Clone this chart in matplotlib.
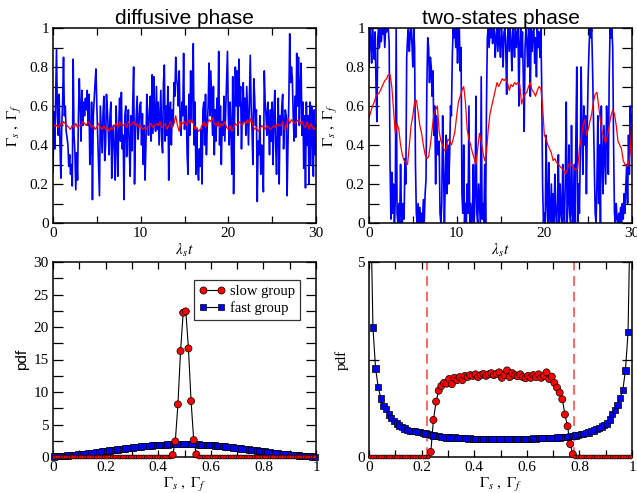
import numpy as np
import matplotlib
matplotlib.use("Agg")
import matplotlib.pyplot as plt
from matplotlib.ticker import MultipleLocator, FuncFormatter

plt.rcParams['font.family'] = ['Liberation Serif', 'DejaVu Serif']
plt.rcParams['mathtext.fontset'] = 'stix'

# ---------------- data ----------------
dt_blue = 0.1
dt_red = 0.2

diff_fast = [
    0.26, 0.57, 0.38, 0.62, 0.89, 0.55, 0.45, 0.66, 0.40, 0.23,
    0.50, 0.62, 0.85, 0.55, 0.60, 0.47, 0.44, 0.40, 0.29, 0.35,
    0.25, 0.30, 0.19, 0.84, 0.45, 0.36, 0.17, 0.36, 0.22, 0.55,
    0.74, 0.60, 0.42, 0.68, 0.50, 0.62, 0.55, 0.64, 0.58, 0.68,
    0.50, 0.66, 0.30, 0.40, 0.62, 0.12, 0.55, 0.64, 0.72, 0.79,
    0.60, 0.45, 0.30, 0.14, 0.60, 0.48, 0.36, 0.55, 0.65, 0.32,
    0.40, 0.66, 0.58, 0.48, 0.35, 0.55, 0.62, 0.23, 0.45, 0.50,
    0.35, 0.22, 0.60, 0.45, 0.24, 0.50, 0.64, 0.42, 0.67, 0.38,
    0.45, 0.12, 0.55, 0.60, 0.34, 0.48, 0.58, 0.38, 0.24, 0.55,
    0.37, 0.62, 0.80, 0.20, 0.45, 0.55, 0.65, 0.43, 0.50, 0.60,
    0.62, 0.40, 0.56, 0.30, 0.50, 0.22, 0.40, 0.66, 0.52, 0.45,
    0.58, 0.65, 0.42, 0.76, 0.46, 0.75, 0.53, 0.47, 0.70, 0.48,
    0.62, 0.40, 0.54, 0.68, 0.42, 0.36, 0.72, 0.81, 0.42, 0.60,
    0.45, 0.70, 0.22, 0.55, 0.62, 0.40, 0.58, 0.50, 0.72, 0.65,
    0.85, 0.74, 0.70, 0.60, 0.78, 0.52, 0.45, 0.62, 0.55, 0.87,
    0.48, 0.58, 0.60, 0.35, 0.25, 0.66, 0.45, 0.78, 0.52, 0.70,
    0.92, 0.40, 0.62, 0.25, 0.48, 0.30, 0.22, 0.38, 0.29, 0.48,
    0.20, 0.58, 0.62, 0.40, 0.66, 0.35, 0.50, 0.60, 0.82, 0.55,
    0.78, 0.62, 0.45, 0.70, 0.35, 0.58, 0.42, 0.64, 0.50, 0.88,
    0.40, 0.60, 0.30, 0.52, 0.45, 0.65, 0.42, 0.58, 0.72, 0.88,
    0.55, 0.40, 0.62, 0.48, 0.25, 0.75, 0.15, 0.50, 0.80, 0.60,
    0.78, 0.45, 0.84, 0.60, 0.70, 0.38, 0.58, 0.72, 0.52, 0.64,
    0.45, 0.70, 0.55, 0.40, 0.62, 0.86, 0.60, 0.48, 0.30, 0.74,
    0.65, 0.50, 0.58, 0.11, 0.42, 0.35, 0.55, 0.25, 0.40, 0.30,
    0.16, 0.78, 0.62, 0.55, 0.45, 0.62, 0.50, 0.35, 0.58, 0.42,
    0.62, 0.30, 0.55, 0.68, 0.40, 0.25, 0.48, 0.64, 0.20, 0.55,
    0.45, 0.60, 0.66, 0.38, 0.50, 0.58, 0.55, 0.14, 0.40, 0.62,
    0.97, 0.72, 0.80, 0.74, 0.55, 0.42, 0.65, 0.44, 0.87, 0.60,
    0.85, 0.50, 0.70, 0.82, 0.45, 0.62, 0.28, 0.55, 0.18, 0.62,
    0.40, 0.55, 0.20, 0.62, 0.30, 0.60, 0.45, 0.24, 0.58, 0.35, 0.45,
]

diff_slow = [
    0.49, 0.50, 0.50, 0.49, 0.51, 0.50, 0.52, 0.51, 0.50, 0.49,
    0.48, 0.50, 0.49, 0.51, 0.49, 0.50, 0.50, 0.52, 0.51, 0.50,
    0.52, 0.51, 0.49, 0.50, 0.48, 0.49, 0.51, 0.49, 0.48, 0.50,
    0.48, 0.49, 0.47, 0.49, 0.48, 0.50, 0.51, 0.49, 0.52, 0.50,
    0.50, 0.51, 0.49, 0.52, 0.50, 0.51, 0.52, 0.50, 0.51, 0.49,
    0.50, 0.48, 0.49, 0.48, 0.49, 0.50, 0.51, 0.49, 0.50, 0.51,
    0.50, 0.52, 0.49, 0.50, 0.51, 0.48, 0.50, 0.52, 0.49, 0.51,
    0.55, 0.50, 0.47, 0.52, 0.51, 0.52, 0.50, 0.53, 0.51, 0.53,
    0.51, 0.48, 0.49, 0.47, 0.48, 0.50, 0.52, 0.49, 0.51, 0.53,
    0.52, 0.54, 0.51, 0.50, 0.52, 0.49, 0.51, 0.50, 0.52, 0.49,
    0.48, 0.50, 0.47, 0.49, 0.51, 0.50, 0.52, 0.51, 0.50, 0.52,
    0.51, 0.53, 0.51, 0.54, 0.50, 0.48, 0.49, 0.47, 0.48, 0.50,
    0.49, 0.48, 0.50, 0.49, 0.48, 0.49, 0.50, 0.49, 0.51, 0.50,
    0.50, 0.52, 0.48, 0.49, 0.54, 0.51, 0.53, 0.52, 0.51, 0.52,
    0.53, 0.51, 0.52, 0.50, 0.49, 0.52, 0.48, 0.51, 0.49, 0.48, 0.50,
]

two_fast = [
    0.80, 1.00, 0.95, 0.82, 1.00, 0.90, 0.84, 0.98, 0.70, 0.52,
    0.95, 1.00, 0.90, 1.00, 0.93, 1.00, 0.97, 1.00, 0.90, 1.00,
    0.98, 1.00, 1.00, 0.92, 0.30, 0.02, 0.26, 0.05, 0.20, 0.00,
    0.12, 1.00, 0.05, 0.00, 0.10, 0.00, 0.30, 0.05, 0.00, 0.10,
    0.02, 0.33, 0.20, 0.85, 0.95, 1.00, 0.88, 0.97, 1.00, 0.92,
    0.80, 1.00, 0.90, 0.30, 0.05, 0.00, 0.10, 0.00, 0.08, 0.00,
    0.05, 0.00, 0.12, 0.00, 0.15, 0.22, 0.70, 0.95, 0.90, 0.72,
    0.85, 0.80, 0.65, 0.78, 0.45, 0.60, 0.20, 0.55, 0.40, 0.35,
    0.42, 0.05, 0.00, 0.10, 0.55, 0.30, 0.00, 0.20, 0.45, 0.15,
    0.40, 0.20, 0.35, 0.60, 0.55, 0.85, 1.00, 0.95, 1.00, 0.90,
    1.00, 0.82, 0.95, 1.00, 0.78, 0.90, 0.15, 0.05, 0.40, 0.00,
    0.10, 0.00, 0.20, 0.05, 0.60, 0.00, 0.10, 0.00, 0.05, 0.30,
    0.00, 0.15, 0.65, 0.05, 0.00, 0.20, 0.10, 0.00, 0.75, 0.02,
    0.10, 0.00, 0.30, 0.00, 0.60, 0.95, 1.00, 0.90, 1.00, 0.95,
    1.00, 0.92, 0.98, 1.00, 0.85, 0.95, 1.00, 0.88, 1.00, 0.93,
    0.85, 1.00, 0.95, 0.80, 0.98, 1.00, 0.90, 0.66, 0.95, 1.00,
    0.88, 1.00, 0.92, 0.78, 1.00, 0.95, 0.85, 1.00, 0.90, 0.97,
    1.00, 0.60, 0.92, 1.00, 0.85, 0.98, 0.75, 0.47, 0.90, 1.00,
    0.93, 0.80, 1.00, 0.95, 0.65, 1.00, 0.88, 0.98, 1.00, 0.82,
    0.95, 0.75, 1.00, 0.90, 0.98, 0.85, 1.00, 0.70, 0.20, 0.00,
    0.05, 0.00, 0.45, 0.10, 0.00, 0.31, 0.05, 0.00, 0.20, 0.00,
    0.15, 0.00, 0.25, 0.05, 0.00, 0.10, 0.35, 0.00, 0.20, 0.05,
    0.00, 0.30, 0.05, 0.00, 0.25, 0.62, 0.00, 0.10, 0.40, 0.05,
    0.00, 0.50, 0.05, 0.00, 0.30, 0.00, 0.45, 0.80, 0.00, 0.20,
    0.05, 0.35, 0.80, 0.45, 0.25, 0.60, 0.40, 0.55, 0.15, 0.50,
    0.75, 0.90, 1.00, 0.95, 1.00, 0.80, 0.55, 0.30, 0.05, 0.00,
    0.20, 0.55, 0.10, 0.40, 0.00, 0.60, 0.30, 0.15, 0.50, 0.35,
    0.20, 0.60, 0.45, 0.25, 0.75, 1.00, 0.95, 1.00, 0.90, 0.40,
    0.05, 0.00, 0.10, 0.02, 0.00, 0.05, 0.00, 0.08, 0.00, 0.10,
    0.02, 0.15, 0.05, 0.20, 0.30, 0.10, 0.45, 0.25, 0.60, 0.40, 0.55,
]

two_slow = [
    0.54, 0.57, 0.60, 0.62, 0.65, 0.66, 0.67, 0.69, 0.71, 0.73,
    0.74, 0.76, 0.76, 0.70, 0.58, 0.46, 0.51, 0.48, 0.40, 0.35,
    0.32, 0.31, 0.30, 0.40, 0.50, 0.55, 0.62, 0.63, 0.57, 0.50,
    0.46, 0.40, 0.35, 0.33, 0.34, 0.40, 0.48, 0.56, 0.58, 0.60,
    0.47, 0.42, 0.40, 0.37, 0.38, 0.43, 0.42, 0.40, 0.43, 0.47,
    0.55, 0.62, 0.65, 0.68, 0.70, 0.62, 0.48, 0.43, 0.40, 0.36,
    0.33, 0.30, 0.38, 0.46, 0.42, 0.36, 0.32, 0.36, 0.48, 0.56,
    0.60, 0.64, 0.68, 0.72, 0.70, 0.72, 0.74, 0.73, 0.74, 0.72,
    0.68, 0.71, 0.70, 0.72, 0.71, 0.72, 0.71, 0.61, 0.64, 0.66,
    0.67, 0.70, 0.72, 0.68, 0.67, 0.65, 0.68, 0.70, 0.69, 0.60,
    0.45, 0.43, 0.40, 0.38, 0.36, 0.32, 0.33, 0.31, 0.30, 0.29,
    0.28, 0.27, 0.25, 0.27, 0.30, 0.31, 0.29, 0.28, 0.27, 0.28,
    0.38, 0.43, 0.50, 0.53, 0.45, 0.48, 0.52, 0.56, 0.62, 0.66,
    0.67, 0.60, 0.52, 0.46, 0.44, 0.41, 0.45, 0.50, 0.55, 0.58,
    0.56, 0.50, 0.42, 0.40, 0.38, 0.32, 0.30, 0.29, 0.30, 0.36, 0.56,
]

# pdf histograms: 100 bins over [0, 1]
pdf_bin_width = 0.01

pdf_diff_fast = [
    0.08, 0.10, 0.13, 0.16, 0.19, 0.22, 0.26, 0.30, 0.34, 0.38,
    0.42, 0.47, 0.52, 0.57, 0.62, 0.67, 0.72, 0.77, 0.83, 0.88,
    0.93, 0.99, 1.04, 1.09, 1.14, 1.20, 1.25, 1.30, 1.35, 1.40,
    1.45, 1.50, 1.55, 1.60, 1.64, 1.68, 1.72, 1.76, 1.79, 1.82,
    1.85, 1.88, 1.90, 1.92, 1.94, 1.95, 1.96, 1.97, 1.98, 1.98,
    1.98, 1.97, 1.96, 1.95, 1.94, 1.92, 1.90, 1.88, 1.85, 1.82,
    1.79, 1.76, 1.72, 1.68, 1.64, 1.60, 1.55, 1.50, 1.45, 1.40,
    1.35, 1.30, 1.25, 1.20, 1.14, 1.09, 1.04, 0.99, 0.93, 0.88,
    0.83, 0.77, 0.72, 0.67, 0.62, 0.57, 0.52, 0.47, 0.42, 0.38,
    0.34, 0.30, 0.26, 0.22, 0.19, 0.16, 0.13, 0.10, 0.08, 0.06,
]

pdf_diff_slow = [0.0] * 45 + [0.3, 2.4, 8.1, 16.3, 22.2, 22.4, 16.7, 8.6, 2.6, 0.4] + [0.0] * 45

pdf_two_fast = [
    7.00, 3.32, 2.27, 1.80, 1.50, 1.30, 1.24, 1.09, 1.00, 0.92,
    0.86, 0.81, 0.76, 0.73, 0.70, 0.67, 0.67, 0.66, 0.65, 0.65,
    0.62, 0.60, 0.58, 0.57, 0.55, 0.54, 0.53, 0.52, 0.51, 0.50,
    0.50, 0.49, 0.50, 0.48, 0.49, 0.48, 0.48, 0.47, 0.48, 0.47,
    0.47, 0.47, 0.46, 0.47, 0.47, 0.46, 0.47, 0.46, 0.47, 0.47,
    0.46, 0.47, 0.47, 0.46, 0.47, 0.47, 0.46, 0.47, 0.47, 0.47,
    0.47, 0.47, 0.48, 0.47, 0.48, 0.48, 0.49, 0.48, 0.49, 0.49,
    0.49, 0.50, 0.50, 0.51, 0.52, 0.52, 0.53, 0.54, 0.55, 0.56,
    0.58, 0.59, 0.61, 0.63, 0.66, 0.68, 0.71, 0.74, 0.78, 0.82,
    0.86, 0.96, 1.11, 1.20, 1.33, 1.52, 1.71, 2.22, 3.20, 7.00,
]

pdf_two_slow = [0.0] * 23 + [
    0.13, 0.95, 1.42, 1.70, 1.82, 1.90, 1.88,
    2.00, 1.87, 2.03, 1.97, 2.05, 1.97, 2.08, 2.05, 2.10, 2.08,
    2.12, 2.05, 2.10, 2.13, 2.08, 2.12, 2.15, 2.10, 2.13, 2.17,
    2.03, 2.10, 2.22, 2.05, 2.15, 2.10, 2.07, 2.12, 2.05, 2.02,
    2.08, 2.03, 2.10, 2.05, 2.12, 2.03, 2.08, 2.17, 2.00, 2.06,
    1.90, 1.78, 1.65, 1.48, 1.09, 0.79, 0.33, 0.07,
] + [0.0] * 22

two_state_bounds = [0.22, 0.78]

titles = ["diffusive phase", "two-states phase"]

# ---------------- figure ----------------
W, H = 637, 493
fig = plt.figure(figsize=(W / 100, H / 100), dpi=100)

def rect(l, r, t, b):
    return [l / W, (H - b) / H, (r - l) / W, (b - t) / H]

ax_tl = fig.add_axes(rect(53, 316, 28, 223))
ax_tr = fig.add_axes(rect(369, 632, 28, 223))
ax_bl = fig.add_axes(rect(53, 316, 262, 457))
ax_br = fig.add_axes(rect(369, 632, 262, 457))

fmt = FuncFormatter(lambda v, p: ("%g" % round(v, 6)))

def style(ax, xmaj, xmin, ymaj, ymin):
    ax.xaxis.set_major_locator(MultipleLocator(xmaj))
    ax.xaxis.set_minor_locator(MultipleLocator(xmin))
    ax.yaxis.set_major_locator(MultipleLocator(ymaj))
    ax.yaxis.set_minor_locator(MultipleLocator(ymin))
    ax.xaxis.set_major_formatter(fmt)
    ax.yaxis.set_major_formatter(fmt)
    ax.tick_params(which='both', direction='in', top=True, right=True,
                   labelsize=11, width=0.9, pad=3)
    ax.tick_params(axis='x', which='both', length=5)
    ax.tick_params(axis='y', which='both', length=7)
    for s in ax.spines.values():
        s.set_linewidth(1.1)

# top panels
t_blue_d = np.arange(len(diff_fast)) * dt_blue
t_red_d = np.arange(len(diff_slow)) * dt_red
t_blue_t = np.arange(len(two_fast)) * dt_blue
t_red_t = np.arange(len(two_slow)) * dt_red

for ax, fast, slow, tb, tr, title in [
        (ax_tl, diff_fast, diff_slow, t_blue_d, t_red_d, titles[0]),
        (ax_tr, two_fast, two_slow, t_blue_t, t_red_t, titles[1])]:
    ax.plot(tb, fast, color='#0000ff', lw=1.2)
    ax.plot(tr, slow, color='#ff0000', lw=0.9)
    ax.set_xlim(0, 30)
    ax.set_ylim(0, 1)
    style(ax, 10, 5, 0.2, 0.1)
    ax.set_title(title, family=['Liberation Sans', 'DejaVu Sans'], fontsize=15, pad=3)
    ax.set_xlabel(r'$\lambda_s t$', fontsize=11, labelpad=1)
    ax.set_ylabel(r'$\Gamma_s\ ,\ \Gamma_f$', fontsize=11, labelpad=4)

# bottom panels
centers = (np.arange(len(pdf_diff_fast)) + 0.5) * pdf_bin_width

def pdf_series(ax, y, ymax, color, marker, big, small, label):
    y = np.asarray(y)
    ax.plot(centers, y, color='black', lw=0.8, zorder=2)
    inside = y <= ymax
    sizes = np.where(y > 0, big, small)
    ax.scatter(centers[inside], y[inside], s=sizes[inside], marker=marker,
               facecolor=color, edgecolor='black', linewidths=0.5,
               zorder=3, clip_on=False)
    ax.plot([], [], color='black', lw=0.8, marker=marker, markersize=np.sqrt(big),
            markerfacecolor=color, markeredgecolor='black', markeredgewidth=0.5,
            label=label)

pdf_series(ax_bl, pdf_diff_fast, 30, '#0000ff', 's', 20, 20, 'fast group')
pdf_series(ax_bl, pdf_diff_slow, 30, '#ff0000', 'o', 26, 8, 'slow group')
ax_bl.set_xlim(0, 1)
ax_bl.set_ylim(0, 30)
style(ax_bl, 0.2, 0.1, 5, 2.5)
ax_bl.set_xlabel(r'$\Gamma_s\ ,\ \Gamma_f$', fontsize=11, labelpad=1)
ax_bl.set_ylabel('pdf', family=['Liberation Sans', 'DejaVu Sans'], fontsize=11, labelpad=3)
h, l = ax_bl.get_legend_handles_labels()
leg = ax_bl.legend(h[::-1], l[::-1], loc='upper right', bbox_to_anchor=(0.94, 0.91),
                   numpoints=2, fontsize=10.5, frameon=True, fancybox=False,
                   borderaxespad=0, handlelength=1.8, handletextpad=0.35,
                   borderpad=0.35, labelspacing=0.25)
leg.get_frame().set_edgecolor('black')
leg.get_frame().set_linewidth(0.9)

for xb in two_state_bounds:
    ax_br.axvline(xb, color='#ff6666', lw=1.4, ls=(0, (5, 3)), zorder=1)
pdf_series(ax_br, pdf_two_fast, 5, '#0000ff', 's', 20, 20, 'fast group')
pdf_series(ax_br, pdf_two_slow, 5, '#ff0000', 'o', 26, 8, 'slow group')
ax_br.set_xlim(0, 1)
ax_br.set_ylim(0, 5)
style(ax_br, 0.2, 0.1, 5, 2.5)
ax_br.set_xlabel(r'$\Gamma_s\ ,\ \Gamma_f$', fontsize=11, labelpad=1)
ax_br.set_ylabel('pdf', fontsize=11, labelpad=6)

fig.savefig('out.png', dpi=100)
